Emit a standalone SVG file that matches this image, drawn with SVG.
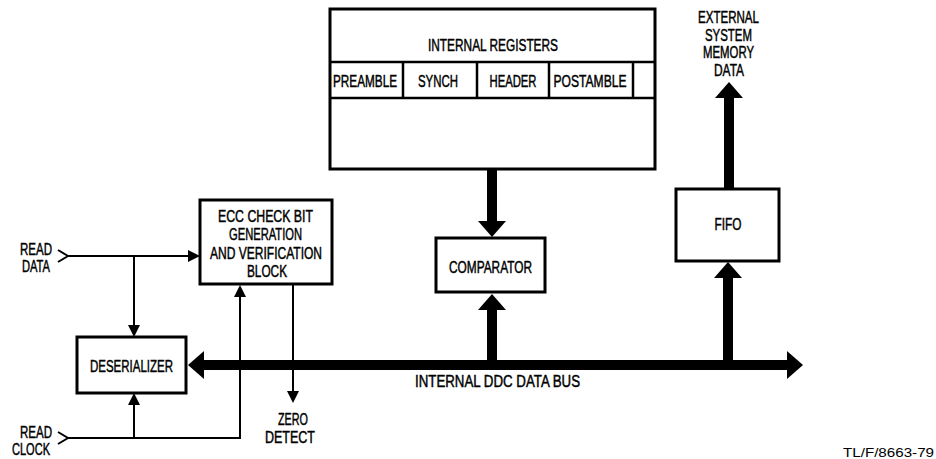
<svg xmlns="http://www.w3.org/2000/svg" width="936" height="459" viewBox="0 0 936 459">
<style>
.box{fill:#fff;stroke:#000;stroke-width:3}
.div{fill:none;stroke:#000;stroke-width:2.5}
.t{font-family:"Liberation Sans",Arial,sans-serif;font-size:16px;fill:#000;stroke:#000;stroke-width:0.45;text-anchor:middle}
.thin{fill:none;stroke:#000;stroke-width:2}
.thick{fill:none;stroke:#000;stroke-width:10}
.note{font-family:"Liberation Sans",Arial,sans-serif;font-size:12px;fill:#000;text-anchor:end}
</style>
<defs>
<marker id="ah" markerUnits="userSpaceOnUse" viewBox="0 0 12 12" refX="4" refY="6" markerWidth="12" markerHeight="12" orient="auto">
<path d="M0,0 L12,6 L0,12 z" fill="#000"/>
</marker>
<marker id="AH" markerUnits="userSpaceOnUse" viewBox="0 0 16 28" refX="4" refY="14" markerWidth="16" markerHeight="28" orient="auto-start-reverse">
<path d="M0,0 L16,14 L0,28 z" fill="#000"/>
</marker>
</defs>

<g id="connectors">
<polyline class="thin" points="58,250 68,256 58,262"/>
<line class="thin" x1="68" y1="256" x2="192" y2="256" marker-end="url(#ah)"/>
<line class="thin" x1="134" y1="256" x2="134" y2="329" marker-end="url(#ah)"/>
<polyline class="thin" points="58,432 68,438 58,444"/>
<polyline class="thin" points="68,438 240,438 240,293" marker-end="url(#ah)"/>
<line class="thin" x1="134" y1="438" x2="134" y2="401" marker-end="url(#ah)"/>
<line class="thin" x1="293" y1="285" x2="293" y2="395" marker-end="url(#ah)"/>
<line class="thick" x1="200" y1="365" x2="791" y2="365" marker-start="url(#AH)" marker-end="url(#AH)"/>
<line class="thick" x1="492" y1="169" x2="492" y2="225" marker-end="url(#AH)"/>
<line class="thick" x1="492" y1="365" x2="492" y2="306" marker-end="url(#AH)"/>
<line class="thick" x1="728" y1="365" x2="728" y2="274" marker-end="url(#AH)"/>
<line class="thick" x1="729" y1="189" x2="729" y2="94" marker-end="url(#AH)"/>
</g>

<g id="registers">
<rect class="box" x="330" y="9" width="325" height="160"/>
<line class="div" x1="330" y1="62" x2="655" y2="62"/>
<line class="div" x1="330" y1="98" x2="655" y2="98"/>
<line class="div" x1="403" y1="62" x2="403" y2="98"/>
<line class="div" x1="477" y1="62" x2="477" y2="98"/>
<line class="div" x1="549" y1="62" x2="549" y2="98"/>
<line class="div" x1="633" y1="62" x2="633" y2="98"/>
<text class="t" x="493" y="51" textLength="130" lengthAdjust="spacingAndGlyphs">INTERNAL REGISTERS</text>
<text class="t" x="365" y="87" textLength="64" lengthAdjust="spacingAndGlyphs">PREAMBLE</text>
<text class="t" x="438" y="87" textLength="40" lengthAdjust="spacingAndGlyphs">SYNCH</text>
<text class="t" x="513" y="87" textLength="47" lengthAdjust="spacingAndGlyphs">HEADER</text>
<text class="t" x="590" y="87" textLength="73" lengthAdjust="spacingAndGlyphs">POSTAMBLE</text>
</g>

<g id="comparator">
<rect class="box" x="436" y="238" width="109" height="54"/>
<text class="t" x="490.5" y="273" textLength="83" lengthAdjust="spacingAndGlyphs">COMPARATOR</text>
</g>

<g id="fifo">
<rect class="box" x="676" y="189" width="103" height="72"/>
<text class="t" x="728" y="230" textLength="27" lengthAdjust="spacingAndGlyphs">FIFO</text>
</g>

<g id="ecc">
<rect class="box" x="200" y="200" width="132" height="84"/>
<text class="t" x="265.5" y="222" textLength="95" lengthAdjust="spacingAndGlyphs">ECC CHECK BIT</text>
<text class="t" x="265.5" y="239.5" textLength="73" lengthAdjust="spacingAndGlyphs">GENERATION</text>
<text class="t" x="266" y="259" textLength="112" lengthAdjust="spacingAndGlyphs">AND VERIFICATION</text>
<text class="t" x="267" y="276.5" textLength="40" lengthAdjust="spacingAndGlyphs">BLOCK</text>
</g>

<g id="deserializer">
<rect class="box" x="77" y="337" width="109" height="56"/>
<text class="t" x="131.5" y="372" textLength="83" lengthAdjust="spacingAndGlyphs">DESERIALIZER</text>
</g>

<g id="labels">
<text class="t" x="36" y="255" textLength="32" lengthAdjust="spacingAndGlyphs">READ</text>
<text class="t" x="36" y="272" textLength="28" lengthAdjust="spacingAndGlyphs">DATA</text>
<text class="t" x="36" y="438" textLength="32" lengthAdjust="spacingAndGlyphs">READ</text>
<text class="t" x="31" y="455" textLength="38" lengthAdjust="spacingAndGlyphs">CLOCK</text>
<text class="t" x="293" y="425" textLength="30" lengthAdjust="spacingAndGlyphs">ZERO</text>
<text class="t" x="290" y="443" textLength="50" lengthAdjust="spacingAndGlyphs">DETECT</text>
<text class="t" x="497.5" y="387" textLength="165" lengthAdjust="spacingAndGlyphs">INTERNAL DDC DATA BUS</text>
<text class="t" x="728.5" y="23" textLength="61" lengthAdjust="spacingAndGlyphs">EXTERNAL</text>
<text class="t" x="728.5" y="40.5" textLength="47" lengthAdjust="spacingAndGlyphs">SYSTEM</text>
<text class="t" x="728.5" y="58" textLength="51" lengthAdjust="spacingAndGlyphs">MEMORY</text>
<text class="t" x="729" y="76" textLength="30" lengthAdjust="spacingAndGlyphs">DATA</text>
<text class="note" x="934" y="457" textLength="91" lengthAdjust="spacingAndGlyphs">TL/F/8663-79</text>
</g>
</svg>
